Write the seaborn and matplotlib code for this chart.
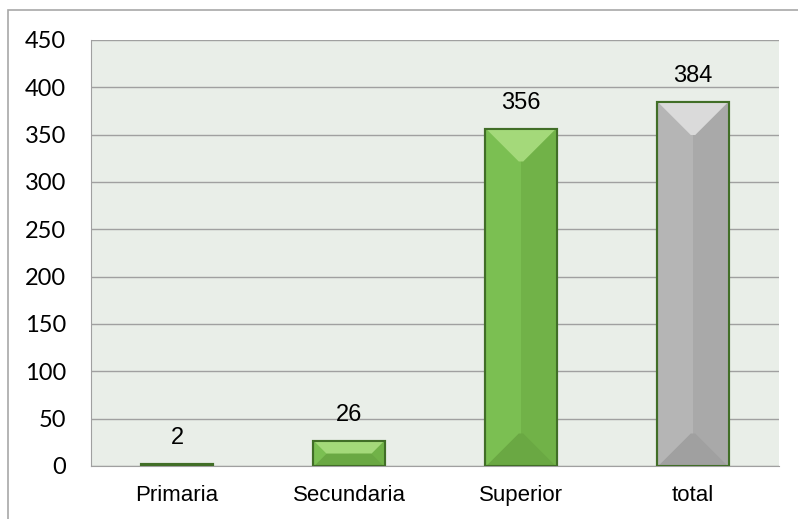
import matplotlib
matplotlib.use("Agg")
import matplotlib.pyplot as plt
import matplotlib.patches as mpatches
import pandas as pd
import seaborn as sns

# data
categories = ["Primaria", "Secundaria", "Superior", "total"]
values = [2, 26, 356, 384]
y_ticks = [0, 50, 100, 150, 200, 250, 300, 350, 400, 450]

df = pd.DataFrame({"nivel": categories, "n": values})

sns.set_style("white")
plt.rcParams["font.family"] = ["Liberation Sans", "DejaVu Sans"]

body = ["#7BBF52", "#7BBF52", "#7BBF52", "#B5B5B5"]
right_half = ["#71B248", "#71B248", "#71B248", "#A9A9A9"]
top_face = ["#A4D97A", "#A4D97A", "#A4D97A", "#DADADA"]
bottom_face = ["#6AA843", "#6AA843", "#6AA843", "#A0A0A0"]
edge = "#416E27"

fig = plt.figure(figsize=(7.98, 5.19), dpi=100)
ax = fig.add_axes([91 / 798, 1 - 466 / 519, (779 - 91) / 798, (466 - 40) / 519])

sns.barplot(data=df, x="nivel", y="n", palette=body, hue="nivel", legend=False,
            saturation=1, width=0.42, edgecolor=edge, linewidth=1.5, ax=ax, zorder=3)

ax.set_xlim(-0.5, 3.5)
ax.set_ylim(0, 450)
ax.set_facecolor("#E9EEE8")

# bevel shading on each bar, derived from the bar patch extents
fig.canvas.draw()
px_per_x = ax.transData.transform((1, 0))[0] - ax.transData.transform((0, 0))[0]
px_per_y = ax.transData.transform((0, 1))[1] - ax.transData.transform((0, 0))[1]
for i, p in enumerate(ax.patches[:len(values)]):
    x0, w, h = p.get_x(), p.get_width(), p.get_height()
    xc = x0 + w / 2
    d_px = min(0.45 * w * px_per_x, h * px_per_y / 2)
    dx = d_px / px_per_x
    dy = d_px / px_per_y
    ins = 0.008
    ax.add_patch(mpatches.Polygon([(xc, 0), (x0 + w - ins, 0), (x0 + w - ins, h), (xc, h)],
                                  closed=True, fc=right_half[i], ec="none", zorder=3.1))
    ax.add_patch(mpatches.Polygon([(x0 + ins, h), (x0 + w - ins, h), (x0 + w - ins - dx, h - dy),
                                   (x0 + ins + dx, h - dy)],
                                  closed=True, fc=top_face[i], ec="none", zorder=3.2))
    ax.add_patch(mpatches.Polygon([(x0 + ins, 0), (x0 + w - ins, 0), (x0 + w - ins - dx, dy),
                                   (x0 + ins + dx, dy)],
                                  closed=True, fc=bottom_face[i], ec="none", zorder=3.2))
    ax.add_patch(mpatches.Rectangle((x0, 0), w, h, fc="none", ec=edge, lw=1.5, zorder=3.3))

for i, v in enumerate(values):
    ax.annotate(str(v), (i, v), xytext=(0, 11), textcoords="offset points",
                ha="center", va="bottom", fontsize=17, color="black")

ax.set_yticks(y_ticks)
ax.set_xticks(range(len(categories)))
ax.set_xticklabels(categories)
ax.set_xticks([-0.5, 0.5, 1.5, 2.5, 3.5], minor=True)
ax.tick_params(axis="x", which="major", length=0, pad=14, labelsize=16, labelcolor="black")
ax.tick_params(axis="x", which="minor", length=5, color="#A0A0A0", width=1, direction="out")
ax.tick_params(axis="y", length=6, color="#A0A0A0", width=1, direction="out", pad=12,
               labelsize=17, labelcolor="black")
for lab in ax.get_yticklabels():
    lab.set_family(["Lato", "DejaVu Sans"])
ax.grid(axis="y", color="#A0A0A0", linewidth=1, zorder=0)
ax.set_axisbelow(True)
for s in ["top", "right"]:
    ax.spines[s].set_visible(False)
ax.spines["left"].set_color("#A0A0A0")
ax.spines["bottom"].set_color("#A0A0A0")
ax.set_xlabel("")
ax.set_ylabel("")

# outer chart border
fig.patches.append(mpatches.Rectangle((8 / 798, -0.1), 1.2, 1 - 10 / 519 + 0.1,
                                      transform=fig.transFigure, fill=False,
                                      ec="#A8A8A8", lw=1.2))

fig.savefig("out.png", dpi=100)
